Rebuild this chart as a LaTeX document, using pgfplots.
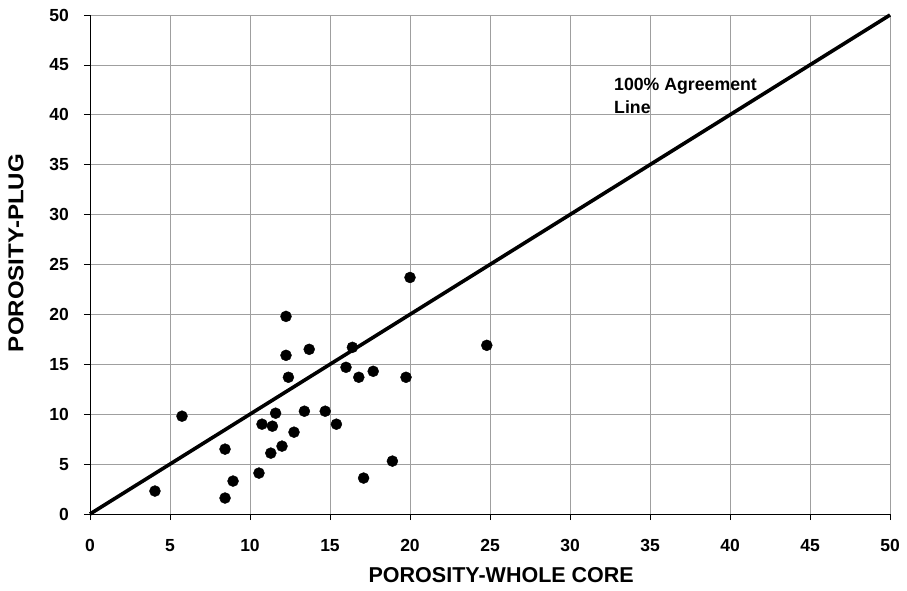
\documentclass[border=0pt]{standalone}
\usepackage{pgfplots}
\pgfplotsset{compat=1.18}
\usepackage{graphicx}
\usepackage{fontspec}
\setmainfont{Liberation Sans}

\begin{document}
\begin{tikzpicture}
  \begin{axis}[
    scale only axis,
    width=800pt, height=499pt,
    xmin=0, xmax=50, ymin=0, ymax=50,
    xtick distance=5, ytick distance=5,
    grid=major,
    major grid style={gray!75, line width=0.7pt},
    axis x line*=bottom, axis y line*=left,
    x axis line style={-, black, line width=0.9pt},
    y axis line style={-, black, line width=0.9pt},
    tick pos=left, tick align=outside,
    major tick length=6pt,
    tick style={black, line width=0.7pt},
    /pgf/number format/assume math mode=true,
    ticklabel style={font=\fontsize{17.5}{20}\selectfont\bfseries},
    xticklabel style={inner sep=0pt, anchor=north, yshift=-19pt},
    yticklabel style={inner sep=0pt, anchor=east, xshift=-15pt},
    xlabel={POROSITY-WHOLE CORE},
    ylabel={\scalebox{1.12}[1]{POROSITY-PLUG}},
    label style={font=\fontsize{21.5}{24}\selectfont\bfseries},
    xlabel style={at={(axis description cs:0.514,-0.122)}, anchor=center},
    ylabel style={at={(axis description cs:-0.0925,0.523)}, anchor=center},
    clip=false,
  ]
  % 100% agreement line
  \addplot[black, line width=3.6pt, no marks] coordinates {(0,0) (50,50)};

  % plug vs whole core porosity
  \addplot[only marks, mark=*, mark size=5.5pt, black] table {
     4.06  2.3
     5.75  9.8
     8.44  6.5
     8.44  1.6
     8.94  3.3
    10.56  4.1
    10.75  9.0
    11.30  6.1
    11.40  8.8
    11.60 10.1
    12.00  6.8
    12.25 19.8
    12.25 15.9
    12.40 13.7
    12.75  8.2
    13.40 10.3
    13.70 16.5
    14.70 10.3
    15.40  9.0
    16.00 14.7
    16.40 16.7
    16.80 13.7
    17.10  3.6
    17.70 14.3
    18.90  5.3
    19.75 13.7
    20.00 23.7
    24.80 16.9
  };

  \node[anchor=north west, inner sep=0pt, align=left,
        font=\fontsize{17.7}{23}\selectfont\bfseries]
    at (axis cs:32.75,43.7) {100\% Agreement\\Line};
  \end{axis}
  \path[use as bounding box] (-90pt,-77pt) rectangle (817pt,514pt);
\end{tikzpicture}
\end{document}
